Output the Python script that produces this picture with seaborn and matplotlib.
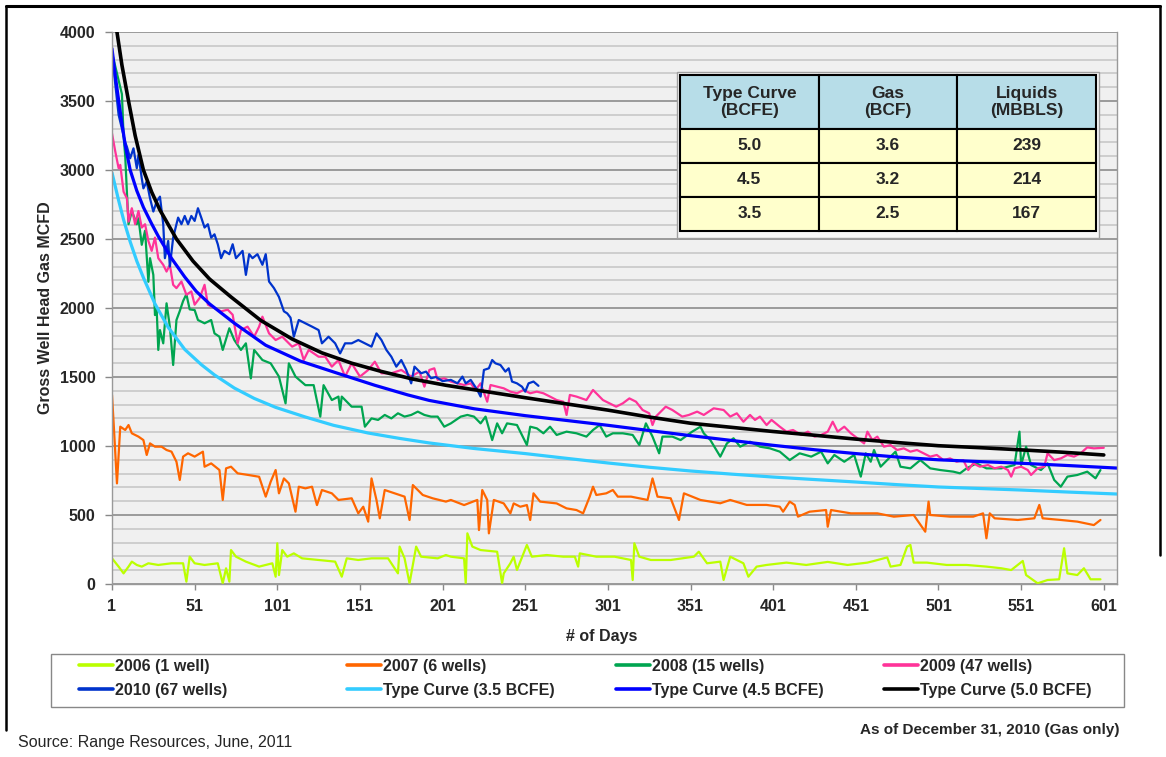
import seaborn as sns
import matplotlib.pyplot as plt
from matplotlib.lines import Line2D
from matplotlib.patches import Rectangle
from matplotlib.ticker import MultipleLocator

# ---- data (day, gross well head gas MCFD) ----
days_2006 = [1, 5, 8, 11, 13, 16, 19, 23, 29, 37, 44, 46, 48, 51, 57, 65, 68, 70, 72, 73, 76, 82, 90, 98,
             100, 101, 102, 104, 107, 111, 116, 126, 136, 140, 143, 150, 158, 168, 174, 175, 178, 181, 185,
             188, 198, 203, 206, 214, 215, 216, 219, 224, 234, 237, 238, 242, 244, 246, 252, 255, 264, 274,
             281, 283, 284, 294, 305, 315, 316, 317, 320, 327, 339, 353, 356, 361, 369, 371, 375, 383, 386,
             391, 397, 409, 421, 434, 446, 458, 462, 470, 472, 478, 482, 484, 486, 494, 506, 518, 530, 539,
             545, 552, 554, 561, 567, 574, 577, 579, 585, 589, 593, 599]
gas_2006 = [186, 126, 77, 126, 162, 138, 126, 150, 138, 150, 150, 17, 198, 150, 138, 150, 5, 114, 17, 246,
            198, 162, 126, 150, 53, 295, 65, 246, 198, 222, 186, 174, 162, 53, 186, 174, 186, 186, 77, 271,
            186, 5, 271, 198, 186, 210, 198, 186, 5, 367, 271, 246, 234, 5, 77, 150, 198, 102, 283, 198, 210,
            198, 198, 126, 222, 198, 198, 174, 29, 295, 198, 174, 174, 198, 234, 150, 162, 29, 198, 150, 53,
            126, 138, 155, 138, 160, 138, 155, 167, 193, 126, 138, 271, 283, 155, 155, 138, 138, 126, 114,
            101, 167, 65, 5, 29, 34, 259, 77, 65, 114, 34, 34]

days_2007 = [1, 2, 4, 6, 9, 11, 13, 17, 20, 22, 24, 27, 31, 34, 37, 40, 42, 44, 47, 51, 56, 57, 61, 66, 68,
             70, 73, 77, 84, 90, 94, 97, 100, 102, 105, 108, 112, 114, 118, 122, 125, 128, 134, 138, 146,
             150, 153, 156, 158, 161, 163, 166, 172, 178, 181, 183, 189, 195, 203, 206, 214, 222, 223, 225,
             228, 229, 232, 238, 242, 244, 248, 252, 254, 256, 260, 270, 276, 282, 286, 290, 292, 294, 300,
             304, 307, 315, 325, 328, 331, 339, 344, 347, 357, 369, 375, 385, 397, 405, 407, 411, 414, 416,
             423, 433, 434, 436, 448, 464, 474, 486, 493, 495, 496, 508, 522, 528, 530, 532, 535, 549, 559,
             562, 564, 575, 585, 595, 599]
gas_2007 = [1370, 1164, 729, 1140, 1116, 1152, 1092, 1068, 1043, 935, 1019, 995, 995, 971, 959, 886, 754,
            923, 947, 923, 959, 850, 874, 826, 609, 838, 850, 802, 789, 777, 633, 741, 826, 657, 765, 729,
            524, 705, 693, 705, 572, 681, 657, 609, 621, 512, 560, 452, 765, 609, 476, 681, 657, 633, 464,
            717, 645, 621, 597, 609, 572, 609, 391, 681, 609, 367, 609, 584, 512, 584, 560, 572, 464, 657,
            597, 584, 548, 536, 512, 633, 705, 645, 657, 681, 633, 633, 609, 765, 633, 621, 464, 657, 609,
            585, 609, 573, 573, 560, 524, 597, 573, 488, 524, 536, 415, 536, 512, 512, 488, 500, 379, 597,
            500, 488, 488, 512, 331, 512, 476, 464, 476, 573, 476, 464, 452, 427, 464]

days_2008 = [1, 4, 7, 8, 9, 10, 11, 13, 16, 17, 19, 21, 23, 24, 26, 27, 28, 29, 30, 32, 34, 36, 38, 40, 42,
             44, 46, 48, 51, 53, 57, 61, 63, 66, 68, 72, 75, 79, 82, 85, 87, 92, 97, 102, 106, 108, 112, 118,
             123, 127, 129, 134, 138, 139, 140, 146, 152, 154, 158, 162, 166, 170, 174, 178, 182, 186, 190,
             194, 198, 202, 206, 212, 216, 220, 224, 227, 231, 234, 237, 240, 246, 252, 254, 258, 262, 266,
             270, 276, 282, 288, 292, 296, 300, 304, 310, 316, 320, 324, 328, 332, 334, 340, 345, 352, 357,
             359, 363, 369, 373, 377, 381, 387, 393, 399, 405, 411, 417, 424, 430, 434, 438, 444, 450, 454,
             457, 460, 462, 466, 470, 475, 478, 484, 490, 496, 502, 510, 514, 518, 524, 530, 539, 547, 550,
             551, 554, 557, 563, 567, 571, 575, 579, 585, 591, 596, 599]
gas_2008 = [3850, 3700, 3550, 3250, 3100, 2843, 2607, 2703, 2607, 2650, 2458, 2560, 2190, 2361, 2240, 1949,
            2000, 1696, 1840, 1744, 2034, 1865, 1587, 1913, 1978, 2050, 2100, 1990, 1985, 1913, 1889, 1913,
            1816, 1792, 1696, 1853, 1768, 1696, 1744, 1490, 1696, 1623, 1599, 1503, 1309, 1599, 1503, 1441,
            1441, 1213, 1441, 1333, 1358, 1261, 1358, 1285, 1285, 1140, 1200, 1189, 1225, 1200, 1237, 1213,
            1225, 1249, 1225, 1213, 1213, 1140, 1164, 1213, 1225, 1213, 1164, 1213, 1043, 1164, 1092, 1164,
            1152, 1007, 1140, 1128, 1092, 1140, 1080, 1104, 1092, 1068, 1116, 1152, 1068, 1092, 1092, 1080,
            1007, 1164, 1068, 947, 1068, 1068, 1043, 1104, 1140, 1092, 1043, 923, 1019, 1056, 995, 1031, 995,
            983, 959, 898, 947, 923, 959, 874, 935, 886, 935, 778, 947, 886, 971, 850, 898, 959, 850, 838,
            898, 838, 826, 814, 802, 838, 874, 838, 838, 862, 1104, 862, 995, 862, 826, 874, 754, 705, 778,
            790, 814, 766, 826]

days_2009 = [1, 3, 5, 6, 8, 10, 11, 13, 15, 17, 19, 21, 23, 25, 27, 29, 32, 34, 36, 38, 40, 43, 46, 49, 51,
             54, 57, 59, 63, 67, 71, 74, 77, 79, 83, 87, 90, 92, 96, 100, 104, 110, 114, 117, 120, 126, 130,
             134, 138, 142, 146, 151, 156, 160, 164, 170, 176, 182, 187, 190, 193, 196, 198, 202, 206, 210,
             214, 218, 221, 224, 228, 230, 234, 238, 242, 246, 250, 254, 258, 262, 266, 270, 274, 276, 278,
             282, 288, 292, 294, 298, 302, 306, 310, 314, 318, 322, 326, 328, 330, 336, 340, 346, 350, 355,
             359, 365, 371, 375, 379, 383, 387, 390, 393, 397, 400, 405, 409, 413, 418, 422, 426, 430, 434,
             437, 440, 444, 448, 452, 456, 458, 461, 464, 468, 472, 476, 480, 484, 488, 492, 496, 500, 504,
             508, 512, 516, 519, 522, 526, 531, 535, 539, 543, 545, 547, 551, 555, 557, 561, 565, 567, 571,
             575, 579, 583, 587, 591, 595, 601]
gas_2009 = [3265, 3133, 3013, 3037, 2843, 2795, 2626, 2723, 2607, 2703, 2583, 2607, 2486, 2414, 2510, 2361,
            2313, 2264, 2313, 2168, 2144, 2192, 2096, 2120, 2024, 2072, 2168, 2024, 2000, 1976, 1988, 1951,
            1744, 1840, 1865, 1792, 1865, 1937, 1816, 1768, 1792, 1720, 1744, 1623, 1696, 1647, 1647, 1575,
            1623, 1503, 1599, 1503, 1551, 1611, 1527, 1527, 1551, 1503, 1539, 1430, 1551, 1563, 1479, 1491,
            1467, 1454, 1442, 1454, 1406, 1454, 1321, 1442, 1430, 1418, 1394, 1382, 1406, 1382, 1394, 1382,
            1358, 1333, 1321, 1225, 1370, 1358, 1333, 1406, 1382, 1333, 1309, 1285, 1309, 1345, 1321, 1261,
            1237, 1152, 1213, 1285, 1261, 1213, 1225, 1249, 1225, 1273, 1261, 1213, 1237, 1176, 1225, 1189,
            1213, 1152, 1189, 1140, 1104, 1116, 1080, 1104, 1068, 1080, 1104, 1176, 1104, 1140, 1092, 1056,
            1019, 1104, 1043, 1068, 995, 1007, 971, 983, 959, 971, 947, 923, 935, 898, 910, 886, 898, 826,
            874, 850, 862, 838, 850, 826, 778, 838, 850, 826, 790, 838, 850, 947, 898, 910, 935, 923, 947,
            990, 983, 987]

days_2010 = [1, 3, 5, 7, 9, 10, 12, 14, 16, 17, 19, 20, 22, 24, 26, 28, 30, 32, 33, 35, 36, 38, 40, 41, 43,
             45, 47, 49, 51, 53, 55, 57, 59, 61, 63, 65, 67, 69, 72, 74, 76, 80, 82, 84, 86, 89, 92, 94, 96,
             99, 102, 105, 107, 109, 111, 114, 118, 122, 126, 128, 132, 136, 139, 142, 146, 150, 154, 158,
             161, 164, 167, 170, 173, 176, 179, 182, 184, 188, 191, 194, 197, 201, 206, 210, 213, 215, 218,
             222, 224, 226, 229, 231, 233, 236, 239, 241, 243, 246, 249, 251, 253, 256, 259]
gas_2010 = [3850, 3620, 3400, 3300, 3200, 3169, 3085, 3157, 3013, 3109, 2940, 2867, 2916, 2795, 2699, 2771,
            2807, 2607, 2361, 2486, 2300, 2510, 2607, 2655, 2607, 2667, 2607, 2667, 2631, 2723, 2655, 2583,
            2607, 2510, 2534, 2462, 2361, 2414, 2390, 2462, 2361, 2414, 2240, 2390, 2361, 2390, 2313, 2390,
            2192, 2144, 2080, 1976, 1961, 1930, 1792, 1913, 1889, 1865, 1840, 1744, 1792, 1744, 1671, 1744,
            1744, 1768, 1744, 1720, 1816, 1768, 1696, 1647, 1575, 1623, 1551, 1454, 1575, 1527, 1539, 1491,
            1500, 1470, 1479, 1454, 1503, 1454, 1479, 1406, 1358, 1551, 1563, 1623, 1599, 1587, 1539, 1563,
            1467, 1454, 1430, 1394, 1454, 1467, 1436]

days_tc35 = [1, 3, 5, 8, 12, 16, 20, 27, 35, 45, 55, 63, 75, 87, 100, 118, 135, 156, 175, 193, 220, 251,
             275, 301, 326, 351, 376, 401, 426, 451, 476, 501, 526, 551, 580, 609]
gas_tc35 = [2980, 2880, 2780, 2640, 2480, 2340, 2220, 2030, 1860, 1700, 1590, 1515, 1420, 1345, 1280, 1210,
            1150, 1094, 1055, 1022, 982, 945, 912, 877, 846, 819, 796, 775, 757, 739, 720, 703, 692, 681,
            666, 652]

days_tc45 = [1, 3, 6, 9, 12, 16, 20, 25, 29, 37, 45, 52, 60, 75, 94, 115, 138, 160, 180, 193, 220, 251,
             276, 301, 326, 351, 376, 401, 426, 451, 476, 501, 526, 551, 580, 609]
gas_tc45 = [3880, 3680, 3420, 3180, 3000, 2850, 2730, 2610, 2520, 2360, 2225, 2120, 2030, 1890, 1730, 1615,
            1525, 1440, 1370, 1330, 1270, 1220, 1185, 1150, 1112, 1075, 1040, 1005, 973, 945, 920, 900, 887,
            875, 858, 840]

days_tc50 = [1, 4, 7, 11, 15, 20, 25, 30, 40, 50, 60, 73, 91, 110, 128, 146, 164, 183, 203, 227, 251, 276,
             301, 326, 351, 376, 401, 426, 451, 476, 501, 526, 551, 576, 601]
gas_tc50 = [4350, 4000, 3760, 3500, 3250, 3000, 2840, 2710, 2500, 2340, 2210, 2080, 1910, 1775, 1675, 1600,
            1540, 1485, 1440, 1395, 1350, 1305, 1260, 1210, 1165, 1135, 1105, 1078, 1050, 1025, 1002, 988,
            972, 955, 935]

series_labels = ["2006 (1 well)", "2007 (6 wells)", "2008 (15 wells)", "2009 (47 wells)", "2010 (67 wells)",
                 "Type Curve (3.5 BCFE)", "Type Curve (4.5 BCFE)", "Type Curve (5.0 BCFE)"]
series_colors = ["#bbff00", "#ff6600", "#00a550", "#ff3399", "#0033cc", "#33ccff", "#0000ff", "#000000"]

table_cols = ["Type Curve\n(BCFE)", "Gas\n(BCF)", "Liquids\n(MBBLS)"]
table_rows = [["5.0", "3.6", "239"], ["4.5", "3.2", "214"], ["3.5", "2.5", "167"]]

# ---- style ----
sns.set_style("white")
plt.rcParams["font.family"] = ["Liberation Sans", "DejaVu Sans"]

W, H = 1166, 757
fig = plt.figure(figsize=(W / 100, H / 100), dpi=100)
ax = fig.add_axes([112 / W, 1 - 584 / H, 1005 / W, 552 / H])
ax.set_facecolor("#f0f0f0")

all_days = [days_2006, days_2007, days_2008, days_2009, days_2010, days_tc35, days_tc45, days_tc50]
all_gas = [gas_2006, gas_2007, gas_2008, gas_2009, gas_2010, gas_tc35, gas_tc45, gas_tc50]
widths = [1.6, 1.6, 1.6, 1.6, 1.6, 2.3, 2.3, 2.6]

for d, g, c, lw in zip(all_days, all_gas, series_colors, widths):
    sns.lineplot(x=d, y=g, color=c, linewidth=lw, estimator=None, sort=False, ax=ax)

# axes
ax.set_xlim(1, 609)
ax.set_ylim(0, 4000)
ax.set_xticks(range(1, 602, 50))
ax.set_yticks(range(0, 4001, 500))
ax.yaxis.set_minor_locator(MultipleLocator(100))
ax.set_axisbelow(True)
ax.yaxis.grid(True, which="major", color="#8c8c8c", linewidth=1.2)
ax.yaxis.grid(True, which="minor", color="#c8c8c8", linewidth=1.2)
ax.xaxis.grid(False)
ax.tick_params(axis="y", which="major", length=5, width=1, color="#888888", pad=7, left=True)
ax.tick_params(axis="y", which="minor", length=0)
ax.tick_params(axis="x", which="major", length=4, width=1, color="#888888", pad=7, bottom=True)
ax.tick_params(labelsize=11.5)
for lbl in ax.get_xticklabels() + ax.get_yticklabels():
    lbl.set_fontweight("bold")
for sp in ax.spines.values():
    sp.set_color("#999999")
    sp.set_linewidth(1)
ax.spines["top"].set_visible(False)

ax.set_xlabel("# of Days", fontsize=11.5, fontweight="bold")
ax.set_ylabel("Gross Well Head Gas MCFD", fontsize=11.5, fontweight="bold")
ax.xaxis.set_label_coords(0.4876, -0.081)
ax.yaxis.set_label_coords(-0.0587, 0.5)

# summary table
ax.add_patch(Rectangle(((677 - 112) / 1005, (584 - 238) / 552), 422 / 1005, 166 / 552,
                       transform=ax.transAxes, facecolor="#f8f8f8", edgecolor="#a0a0a0",
                       linewidth=1, zorder=4))
tbl = ax.table(cellText=table_rows, colLabels=table_cols, cellLoc="center",
               bbox=[0.5652, 0.6395, 0.4139, 0.2826], zorder=5)
tbl.auto_set_font_size(False)
tbl.set_fontsize(12.5)
for (r, c), cell in tbl.get_celld().items():
    cell.set_edgecolor("black")
    cell.set_linewidth(1.5)
    cell.set_facecolor("#b7dde8" if r == 0 else "#ffffcc")
    cell.set_height(54 if r == 0 else 34)
    cell.get_text().set_fontweight("bold")

# legend: four columns evenly spaced inside one frame
handles = [Line2D([], [], color=c, linewidth=2.6) for c in series_colors]
col_x = [79, 347, 616, 884]
for i, x in enumerate(col_x):
    fig.legend(handles=[handles[i], handles[i + 4]], labels=[series_labels[i], series_labels[i + 4]],
               loc="upper left", bbox_to_anchor=(x / W, 1 - 659 / H), frameon=False,
               borderpad=0, borderaxespad=0, handlelength=2.1, handletextpad=0.15,
               labelspacing=0.55, prop={"size": 11.5, "weight": "bold"})
fig.add_artist(Rectangle((51 / W, 1 - 707 / H), (1124 - 51) / W, 53 / H, transform=fig.transFigure,
                         facecolor="none", edgecolor="#888888", linewidth=1))

# notes and outer frame
fig.text(18 / W, 1 - 743 / H, "Source: Range Resources, June, 2011", fontsize=11.5, ha="left", va="center")
fig.text(1120 / W, 1 - 730 / H, "As of December 31, 2010 (Gas only)", fontsize=11, fontweight="bold",
         ha="right", va="center")
fig.add_artist(Line2D([6 / W, 1160 / W], [1 - 6 / H, 1 - 6 / H], color="black", linewidth=2.2))
fig.add_artist(Line2D([6 / W, 6 / W], [1 - 6 / H, 1 - 730 / H], color="black", linewidth=1.8))
fig.add_artist(Line2D([1160 / W, 1160 / W], [1 - 6 / H, 1 - 555 / H], color="black", linewidth=1.8))

fig.savefig("out.png", dpi=100)
